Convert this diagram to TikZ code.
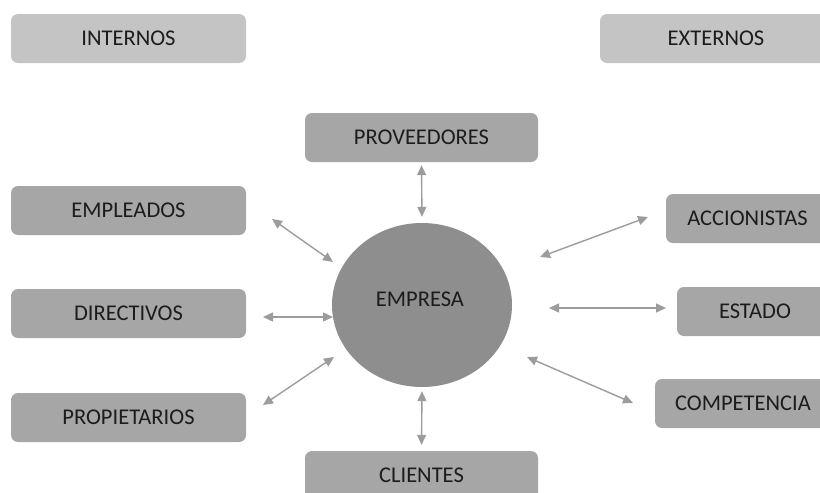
\documentclass[tikz,border=0pt]{standalone}
\usepackage{fontspec}
\setmainfont{Carlito}
\usetikzlibrary{arrows.meta,shapes.geometric}

\definecolor{boxlight}{HTML}{C4C4C4}
\definecolor{boxmid}{HTML}{A6A6A6}
\definecolor{core}{HTML}{8E8E8E}
\definecolor{link}{HTML}{9C9C9C}
\definecolor{ink}{HTML}{1C1C1C}

\tikzset{
  group/.style={fill=boxlight, rounded corners=7pt, minimum width=235pt,
    minimum height=49pt, inner sep=0pt, text=ink,
    font=\fontsize{22.5}{26}\selectfont},
  party/.style={fill=boxmid, rounded corners=7pt, minimum height=49pt,
    inner sep=0pt, text=ink, font=\fontsize{22.5}{26}\selectfont},
  firm/.style={ellipse, fill=core, minimum width=180pt, minimum height=164pt,
    inner sep=0pt},
  rel/.style={draw=link, line width=1.4pt,
    {Triangle[length=10pt,width=9pt]}-{Triangle[length=10pt,width=9pt]}}
}

\begin{document}
\begin{tikzpicture}[x=1pt,y=-1pt]
  \useasboundingbox (0,0) rectangle (820,493);
  \clip (0,0) rectangle (820,493);

  % category headers
  \node[group] (internos) at (128.5,38.5) {INTERNOS};
  \node[group, minimum width=232pt] (externos) at (716,38.5) {EXTERNOS};

  % the company at the centre
  \node[firm] (empresa) at (422,305) {};
  \node[text=ink, font=\fontsize{22.5}{26}\selectfont] (empresalbl) at (420,299) {EMPRESA};

  % internal stakeholders
  \node[party, minimum width=235pt] (empleados)    at (128.5,210.5) {EMPLEADOS};
  \node[party, minimum width=235pt] (directivos)   at (128.5,313.5) {DIRECTIVOS};
  \node[party, minimum width=235pt] (propietarios) at (128.5,417.5) {PROPIETARIOS};

  % top and bottom
  \node[party, minimum width=233pt] (proveedores) at (421.5,137.5) {PROVEEDORES};
  \node[party, minimum width=233pt] (clientes)    at (421.5,475.5) {CLIENTES};

  % external stakeholders
  \node[party, minimum width=163pt] (accionistas) at (747.5,218.5) {ACCIONISTAS};
  \node[party, minimum width=156pt] (estado)      at (755,311.5)   {ESTADO};
  \node[party, minimum width=176pt] (competencia) at (743,403.5)   {COMPETENCIA};

  % arrow end points
  \coordinate (emp-a) at (272,219);  \coordinate (emp-b) at (333,262);
  \coordinate (dir-a) at (263,317);  \coordinate (dir-b) at (333,317);
  \coordinate (pro-a) at (263,405);  \coordinate (pro-b) at (334,357);
  \coordinate (acc-a) at (540,257);  \coordinate (acc-b) at (648,217);
  \coordinate (est-a) at (549,308);  \coordinate (est-b) at (666,308);
  \coordinate (com-a) at (527,357);  \coordinate (com-b) at (633,403);

  % two-way relations
  \draw[rel, shorten <=3pt, shorten >=6pt] (proveedores.south) -- (empresa.north);
  \draw[rel, shorten <=4pt, shorten >=6pt] (empresa.south) -- (clientes.north);
  \draw[rel] (emp-a) -- (emp-b);
  \draw[rel] (dir-a) -- (dir-b);
  \draw[rel] (pro-a) -- (pro-b);
  \draw[rel] (acc-a) -- (acc-b);
  \draw[rel] (est-a) -- (est-b);
  \draw[rel] (com-a) -- (com-b);
\end{tikzpicture}
\end{document}
